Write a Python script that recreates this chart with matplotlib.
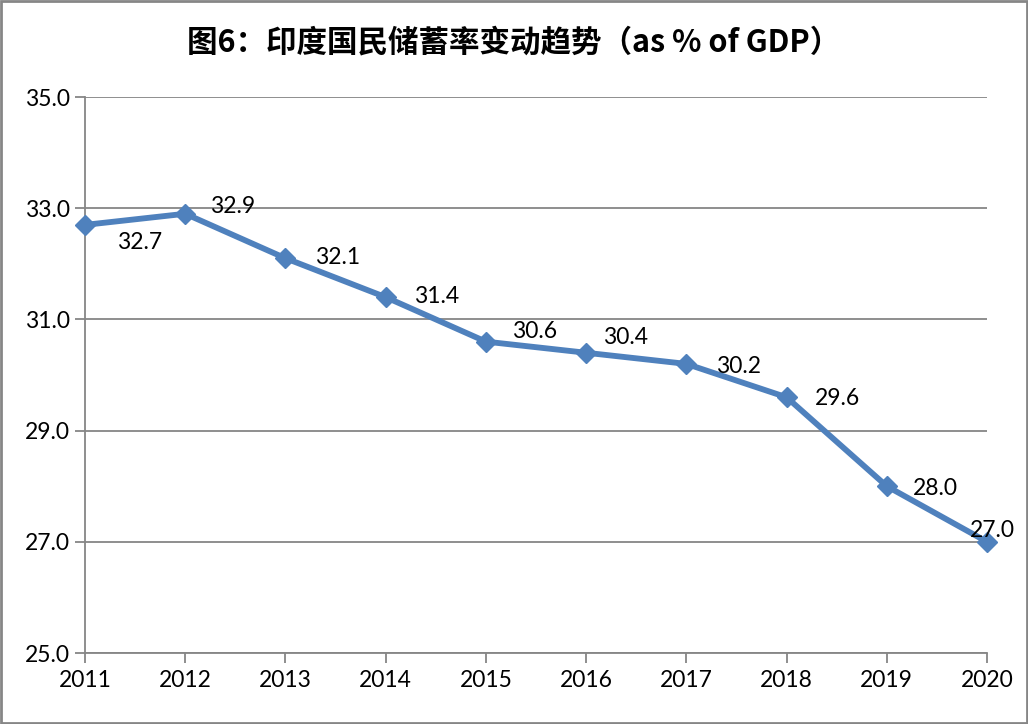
import matplotlib
matplotlib.use("Agg")
import matplotlib.pyplot as plt
from matplotlib.patches import Rectangle

years = [2011, 2012, 2013, 2014, 2015, 2016, 2017, 2018, 2019, 2020]
savings_rate = [32.7, 32.9, 32.1, 31.4, 30.6, 30.4, 30.2, 29.6, 28.0, 27.0]
y_ticks = [25.0, 27.0, 29.0, 31.0, 33.0, 35.0]
title = "图6：印度国民储蓄率变动趋势（as % of GDP）"

# label offsets (px) as placed by hand in the original chart
label_offsets = [(55, -18), (47, 7), (52, 1), (51, 1), (49, 10), (39, 15),
                 (52, -3), (51, -1), (49, -2), (5, 11)]

line_color = "#4F81BD"
grid_color = "#868686"
font = ["Lato", "Noto Sans CJK SC", "DejaVu Sans"]

plt.rcParams["font.family"] = font

fig = plt.figure(figsize=(10.28, 7.24), dpi=100)
ax = fig.add_axes([85 / 1028, 71 / 724, 902 / 1028, 556 / 724])

ax.plot(years, savings_rate, color=line_color, lw=4.2, marker="D",
        markersize=10, clip_on=False, zorder=3)

for x, y, (dx, dy) in zip(years, savings_rate, label_offsets):
    ax.annotate(f"{y:.1f}", (x, y), xytext=(dx, dy),
                textcoords="offset pixels", ha="center", va="center",
                fontsize=16.5, color="black", zorder=4)

ax.set_xlim(years[0], years[-1])
ax.set_ylim(y_ticks[0], y_ticks[-1])
ax.set_xticks(years)
ax.set_xticklabels([str(y) for y in years])
ax.set_yticks(y_ticks)
ax.set_yticklabels([f"{t:.1f}" for t in y_ticks])
ax.yaxis.grid(True, color=grid_color, lw=1.3)
ax.set_axisbelow(True)

for side in ["top", "right"]:
    ax.spines[side].set_visible(False)
for side in ["left", "bottom"]:
    ax.spines[side].set_color(grid_color)
    ax.spines[side].set_linewidth(1.3)

ax.tick_params(axis="both", colors=grid_color, width=1.3, length=7,
               labelsize=16.5, labelcolor="black")
ax.tick_params(axis="y", pad=4)
ax.tick_params(axis="x", pad=5)

fig.text(0.5, 1 - 42 / 724, title, ha="center", va="center", fontsize=22,
         fontweight="bold", family=["Noto Sans CJK SC", "DejaVu Sans"])

fig.patches.append(Rectangle((0.001, 0.001), 0.998, 0.997,
                             transform=fig.transFigure, fill=False,
                             edgecolor=grid_color, lw=2))

fig.savefig("out.png", dpi=100)
